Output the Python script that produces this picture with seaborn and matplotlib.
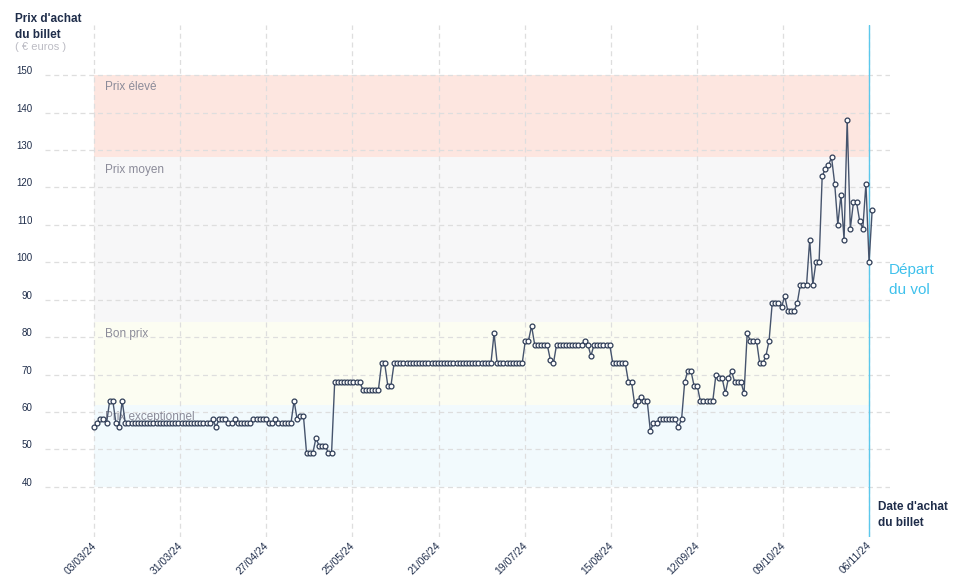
import pandas as pd
import matplotlib
matplotlib.use('Agg')
import matplotlib.pyplot as plt
from matplotlib.transforms import ScaledTranslation
import seaborn as sns

# Daily ticket price (euros), from 03/03/24
prices = [
    56, 57, 58, 58, 57, 63, 63, 57, 56, 63,
    57, 57, 57, 57, 57, 57, 57, 57, 57, 57,
    57, 57, 57, 57, 57, 57, 57, 57, 57, 57,
    57, 57, 57, 57, 57, 57, 57, 57, 58, 56,
    58, 58, 58, 57, 57, 58, 57, 57, 57, 57,
    57, 58, 58, 58, 58, 58, 57, 57, 58, 57,
    57, 57, 57, 57, 63, 58, 59, 59, 49, 49,
    49, 53, 51, 51, 51, 49, 49, 68, 68, 68,
    68, 68, 68, 68, 68, 68, 66, 66, 66, 66,
    66, 66, 73, 73, 67, 67, 73, 73, 73, 73,
    73, 73, 73, 73, 73, 73, 73, 73, 73, 73,
    73, 73, 73, 73, 73, 73, 73, 73, 73, 73,
    73, 73, 73, 73, 73, 73, 73, 73, 81, 73,
    73, 73, 73, 73, 73, 73, 73, 73, 79, 79,
    83, 78, 78, 78, 78, 78, 74, 73, 78, 78,
    78, 78, 78, 78, 78, 78, 78, 79, 78, 75,
    78, 78, 78, 78, 78, 78, 73, 73, 73, 73,
    73, 68, 68, 62, 63, 64, 63, 63, 55, 57,
    57, 58, 58, 58, 58, 58, 58, 56, 58, 68,
    71, 71, 67, 67, 63, 63, 63, 63, 63, 70,
    69, 69, 65, 69, 71, 68, 68, 68, 65, 81,
    79, 79, 79, 73, 73, 75, 79, 89, 89, 89,
    88, 91, 87, 87, 87, 89, 94, 94, 94, 106,
    94, 100, 100, 123, 125, 126, 128, 121, 110, 118,
    106, 138, 109, 116, 116, 111, 109, 121, 100, 114,
]
start_date = '2024-03-03'
departure_date = '2024-11-06'

tick_labels = ['03/03/24', '31/03/24', '27/04/24', '25/05/24', '21/06/24',
               '19/07/24', '15/08/24', '12/09/24', '09/10/24', '06/11/24']
y_ticks = [40, 50, 60, 70, 80, 90, 100, 110, 120, 130, 140, 150]

band_names = ['Prix élevé', 'Prix moyen', 'Bon prix', 'Prix exceptionnel']
band_high = [150, 128, 84, 62]
band_low = [128, 84, 62, 40]
band_colors = ['#fde6e0', '#f7f7f8', '#fcfdf2', '#f2fafd']

sns.set_style('white')
plt.rcParams['font.family'] = ['Liberation Sans', 'DejaVu Sans']

dates = pd.date_range(start_date, periods=len(prices), freq='D')
df = pd.DataFrame({'date': dates, 'price': prices})
t0 = pd.Timestamp(start_date)
t_dep = pd.Timestamp(departure_date)
span = (t_dep - t0).days

W, H = 958, 585
fig = plt.figure(figsize=(W / 100, H / 100), dpi=100)
ax = fig.add_axes([45 / W, 48 / H, 845 / W, 512 / H])

# price zones
for name, lo, hi, col in zip(band_names, band_low, band_high, band_colors):
    ax.fill_between([t0, t_dep], lo, hi, color=col, lw=0, zorder=0)
    ax.annotate(name, (t0, hi), xytext=(8, -4.5), textcoords='offset points',
                ha='left', va='top', fontsize=8.5, color='#8b8b99', zorder=1)

sns.lineplot(data=df, x='date', y='price', ax=ax, color='#46546d', linewidth=1,
             marker='o', markersize=3.5, markerfacecolor='white',
             markeredgecolor='#2f3d57', markeredgewidth=0.9, zorder=4)

ax.axvline(t_dep, color='#5cc8ec', linewidth=1.0, zorder=3)

ax.set_xlim(t0 - pd.Timedelta(days=15.7), t0 + pd.Timedelta(days=254.7))
ax.set_ylim(26.6, 163.4)

ax.set_yticks(y_ticks)
ax.set_yticklabels([str(v) for v in y_ticks])
tick_pos = [t0 + pd.Timedelta(days=span * i / (len(tick_labels) - 1)) for i in range(len(tick_labels))]
ax.set_xticks(tick_pos)
ax.set_xticklabels(tick_labels, rotation=45, ha='right', va='center',
                   rotation_mode='anchor')

ax.tick_params(axis='y', length=0, pad=9, labelsize=7, labelcolor='#1f2d4a')
ax.tick_params(axis='x', length=0, pad=5, labelsize=7.5, labelcolor='#22304d')
for lbl in ax.get_yticklabels():
    lbl.set_transform(lbl.get_transform() + ScaledTranslation(0, 0.05, fig.dpi_scale_trans))
for lbl in ax.get_xticklabels():
    lbl.set_transform(lbl.get_transform() + ScaledTranslation(0.01, 0, fig.dpi_scale_trans))

ax.set_axisbelow(True)
ax.grid(True, color='#dedede', linestyle=(0, (4, 3)), linewidth=0.9)
for s in ax.spines.values():
    s.set_visible(False)
ax.set_xlabel('')
ax.set_ylabel('')

# titles
fig.text(15 / W, 1 - 13 / H, "Prix d'achat\ndu billet", ha='left', va='top',
         fontsize=8.5, fontweight='bold', color='#1f2d4a', linespacing=1.4)
fig.text(15 / W, 1 - 42 / H, '( € euros )', ha='left', va='top',
         fontsize=8, color='#bcbcc4')
fig.text(878 / W, 1 - 501 / H, "Date d'achat\ndu billet", ha='left', va='top',
         fontsize=8.5, fontweight='bold', color='#1f2d4a', linespacing=1.4)
fig.text(889 / W, 1 - 263 / H, 'Départ\ndu vol', ha='left', va='top',
         fontsize=11, color='#3fc1ec', linespacing=1.5)

fig.savefig('out.png', dpi=100)
